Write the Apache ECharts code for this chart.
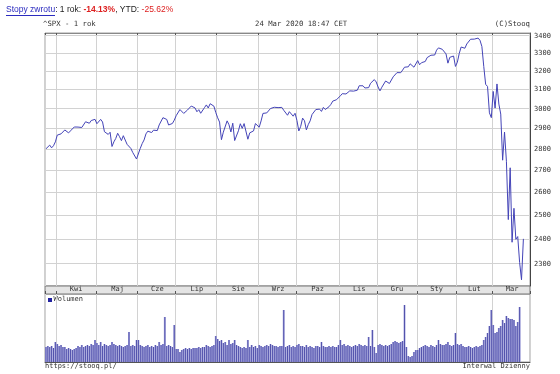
<!DOCTYPE html>
<html><head><meta charset="utf-8">
<script src="https://cdn.jsdelivr.net/npm/echarts@6/dist/echarts.min.js"></script>
<style>html,body{margin:0;padding:0;background:#fff}#c{width:560px;height:374px}</style>
</head><body><div id="c"></div>
<script>
// ---- DATA (S&P 500, ^SPX, 1 year, daily) ----
const monthLabels = ['', 'Kwi', 'Maj', 'Cze', 'Lip', 'Sie', 'Wrz', 'Paz', 'Lis', 'Gru', 'Sty', 'Lut', 'Mar'];

const priceMar19 = [2800.71, 2798.36, 2818.46, 2805.37, 2815.44, 2834.40];
const priceApr19 = [2867.19, 2867.24, 2873.40, 2879.39, 2892.74, 2895.77, 2878.20, 2888.21, 2888.32, 2907.41, 2905.58, 2907.06, 2900.45, 2905.03, 2907.97, 2933.68, 2927.25, 2926.17, 2939.88, 2943.03, 2945.83];
const priceMay19 = [2923.73, 2917.52, 2945.64, 2932.47, 2884.05, 2879.42, 2870.72, 2881.40, 2811.87, 2834.41, 2850.96, 2876.32, 2859.53, 2840.23, 2864.36, 2856.27, 2822.24, 2826.06, 2802.39, 2783.02, 2788.86, 2752.06];
const priceJun19 = [2744.45, 2803.27, 2826.15, 2843.49, 2873.34, 2886.73, 2885.72, 2879.84, 2891.64, 2886.98, 2889.67, 2917.75, 2926.46, 2954.18, 2950.46, 2945.35, 2917.38, 2913.78, 2924.92, 2941.76];
const priceJul19 = [2964.33, 2973.01, 2995.82, 2990.41, 2975.95, 2979.63, 2993.07, 2999.91, 3013.77, 3014.30, 3004.04, 2984.42, 2995.11, 2976.61, 2985.03, 3005.47, 3019.56, 3003.67, 3025.86, 3020.97, 3013.18, 2980.38];
const priceAug19 = [2953.56, 2932.05, 2844.74, 2881.77, 2883.98, 2938.09, 2918.65, 2882.70, 2926.32, 2840.60, 2847.60, 2888.68, 2923.65, 2900.51, 2924.43, 2922.95, 2847.11, 2878.38, 2869.16, 2887.94, 2924.58, 2926.46];
const priceSep19 = [2906.27, 2937.78, 2976.00, 2978.71, 2978.43, 2979.39, 3000.93, 3009.57, 3007.39, 2997.96, 3005.70, 3006.73, 3006.79, 2992.07, 2991.78, 2966.60, 2984.87, 2977.62, 2961.79, 2976.74];
const priceOct19 = [2940.25, 2887.61, 2910.63, 2952.01, 2938.79, 2893.06, 2919.40, 2938.13, 2970.27, 2966.15, 2995.68, 2989.69, 2997.95, 2986.20, 3006.72, 2995.99, 3004.52, 3010.29, 3022.55, 3039.42, 3036.89, 3046.77, 3037.56];
const priceNov19 = [3066.91, 3078.27, 3074.62, 3076.78, 3085.18, 3093.08, 3087.01, 3091.84, 3094.04, 3096.63, 3120.46, 3122.03, 3120.18, 3108.46, 3103.54, 3110.29, 3133.64, 3140.52, 3153.63, 3140.98];
const priceDec19 = [3113.87, 3093.20, 3112.76, 3117.43, 3145.91, 3135.96, 3132.52, 3141.63, 3168.57, 3168.80, 3191.45, 3192.52, 3191.14, 3205.37, 3221.22, 3224.01, 3223.38, 3239.91, 3240.02, 3221.29, 3230.78];
const priceJan20 = [3257.85, 3234.85, 3246.28, 3237.18, 3253.05, 3274.70, 3265.35, 3288.13, 3283.15, 3289.29, 3316.81, 3329.62, 3320.79, 3321.75, 3325.54, 3295.47, 3243.63, 3276.24, 3273.40, 3283.66, 3225.52];
const priceFeb20 = [3248.92, 3297.59, 3334.69, 3345.78, 3327.71, 3352.09, 3357.75, 3379.45, 3373.94, 3380.16, 3370.29, 3386.15, 3373.23, 3337.75, 3225.89, 3128.21, 3116.39, 2978.76, 2954.22];
const priceMar20 = [3090.23, 3003.37, 3130.12, 3023.94, 2972.37, 2746.56, 2882.23, 2741.38, 2480.64, 2711.02, 2386.13, 2529.19, 2398.10, 2409.39, 2304.92, 2237.40, 2400.00];

// volume (relative units)
const volMar19 = [15, 16, 15, 16, 14, 20];
const volApr19 = [18, 16, 17, 15, 15, 13, 14, 13, 12, 13, 14, 16, 15, 17, 15, 16, 17, 16, 18, 17, 22];
const volMay19 = [19, 17, 20, 16, 18, 17, 16, 17, 20, 18, 17, 16, 17, 16, 15, 16, 17, 30, 16, 17, 16, 22];
const volJun19 = [22, 17, 16, 15, 16, 17, 15, 16, 15, 17, 16, 20, 17, 18, 45, 16, 17, 16, 15, 37];
const volJul19 = [13, 13, 10, 12, 13, 14, 13, 14, 13, 14, 14, 14, 15, 14, 15, 15, 17, 16, 15, 16, 17, 26];
const volAug19 = [23, 21, 22, 19, 20, 17, 22, 18, 19, 22, 17, 16, 15, 14, 15, 14, 22, 15, 17, 15, 16, 14];
const volSep19 = [17, 16, 15, 16, 17, 16, 18, 17, 16, 16, 15, 16, 16, 52, 15, 16, 17, 15, 16, 15];
const volOct19 = [17, 18, 16, 16, 15, 17, 15, 16, 15, 14, 16, 16, 15, 20, 16, 15, 15, 16, 15, 16, 15, 15, 17];
const volNov19 = [22, 17, 18, 16, 17, 16, 15, 16, 17, 16, 18, 17, 16, 17, 16, 25, 16, 32, 15, 9];
const volDec19 = [17, 18, 17, 16, 17, 16, 17, 18, 20, 21, 20, 19, 20, 21, 57, 15, 6, 5, 6, 10, 12];
const volJan20 = [12, 14, 15, 16, 17, 16, 15, 17, 16, 15, 17, 22, 18, 17, 17, 18, 20, 17, 16, 17, 29];
const volFeb20 = [18, 17, 18, 16, 15, 15, 16, 15, 14, 15, 16, 15, 16, 17, 22, 25, 29, 36, 52];
const volMar20 = [37, 29, 30, 34, 36, 42, 39, 46, 44, 43, 43, 42, 36, 40, 55, null, null];

const yTickValues = [2300, 2400, 2500, 2600, 2700, 2800, 2900, 3000, 3100, 3200, 3300, 3400];
const padDays = 3;

// ---- BUILD ----
const priceMonths = [priceMar19, priceApr19, priceMay19, priceJun19, priceJul19, priceAug19, priceSep19, priceOct19, priceNov19, priceDec19, priceJan20, priceFeb20, priceMar20];
const volMonths = [volMar19, volApr19, volMay19, volJun19, volJul19, volAug19, volSep19, volOct19, volNov19, volDec19, volJan20, volFeb20, volMar20];

const categories = [], prices = [], volumes = [];
const monthStart = new Set();
const labelAt = {};
priceMonths.forEach((arr, m) => {
  const start = categories.length;
  monthStart.add(start);
  let len = arr.length + (m === priceMonths.length - 1 ? padDays : 0);
  if (monthLabels[m]) labelAt[start + Math.floor(len / 2)] = monthLabels[m];
  arr.forEach((v, i) => {
    categories.push(m + '-' + (i + 1));
    prices.push(v);
    volumes.push(volMonths[m][i]);
  });
});
for (let i = 0; i < padDays; i++) { categories.push('pad' + i); prices.push(null); volumes.push(null); }

const MONO = "'DejaVu Sans Mono', monospace";
const gridColor = '#d2d2d2';
const isMonthStart = (idx) => monthStart.has(idx);

const chart = echarts.init(document.getElementById('c'), null, {renderer: 'canvas'});
chart.setOption({
  animation: false,
  backgroundColor: '#fff',
  grid: [
    {left: 45, right: 30, top: 33, height: 253, show: true, borderColor: '#a0a0a0', borderWidth: 1, backgroundColor: '#fff'},
    {left: 45, right: 30, top: 294, height: 68, show: true, borderColor: '#a0a0a0', borderWidth: 1, backgroundColor: '#fff'},
    {left: 45, right: 30, top: 286, height: 8, show: true, borderColor: '#777', borderWidth: 1, backgroundColor: '#e4e4e4'}
  ],
  xAxis: [
    {type: 'category', gridIndex: 0, data: categories, position: 'top', boundaryGap: true,
     axisLine: {show: true, lineStyle: {color: '#888'}},
     axisTick: {show: true, inside: true, length: 3, interval: isMonthStart, lineStyle: {color: '#555'}},
     axisLabel: {show: false},
     splitLine: {show: true, interval: isMonthStart, lineStyle: {color: gridColor, width: 1}}},
    {type: 'category', gridIndex: 1, data: categories, position: 'bottom', boundaryGap: true,
     axisLine: {show: true, lineStyle: {color: '#555'}},
     axisTick: {show: false}, axisLabel: {show: false},
     splitLine: {show: true, interval: isMonthStart, lineStyle: {color: gridColor, width: 1}}},
    {type: 'category', gridIndex: 2, data: categories, position: 'bottom', boundaryGap: true,
     axisLine: {show: false},
     axisTick: {show: true, inside: true, length: 3, interval: isMonthStart, lineStyle: {color: '#555'}},
     axisLabel: {show: true, inside: true, margin: 1, interval: (idx) => labelAt[idx] !== undefined,
       formatter: (v, idx) => labelAt[idx] || '', fontFamily: MONO, fontSize: 7, color: '#333'},
     splitLine: {show: false}},
    {type: 'category', gridIndex: 1, data: categories, show: false, boundaryGap: true}
  ],
  yAxis: [
    {type: 'log', logBase: 10, gridIndex: 0, position: 'right', min: 2213.7, max: 3415.8,
     axisLine: {show: true, lineStyle: {color: '#444'}}, axisTick: {show: false},
     axisLabel: {show: false}, splitLine: {show: false}},
    {type: 'value', gridIndex: 1, min: 0, max: 68, show: false, splitLine: {show: false}},
    {type: 'value', gridIndex: 2, min: 0, max: 1, show: false, splitLine: {show: false}}
  ],
  series: [
    {name: 'Wolumen (tło)', type: 'bar', xAxisIndex: 1, yAxisIndex: 1, data: volumes, barWidth: 2,
     itemStyle: {color: '#aaaadf'}, silent: true},
    {name: 'Wolumen', type: 'bar', xAxisIndex: 3, yAxisIndex: 1, data: volumes, barWidth: 1,
     itemStyle: {color: '#5252ac'}, silent: true},
    {name: '^SPX', type: 'line', xAxisIndex: 0, yAxisIndex: 0, data: prices, showSymbol: false,
     lineStyle: {color: '#4444b8', width: 1}, z: 3, silent: true,
     markLine: {silent: true, symbol: 'none', z: 1, animation: false,
       lineStyle: {color: gridColor, width: 1, type: 'solid'},
       label: {show: true, position: 'end', distance: 4, formatter: '{c}', fontFamily: MONO, fontSize: 7, color: '#333'},
       emphasis: {disabled: true},
       data: yTickValues.map(v => ({yAxis: v}))}}
  ],
  graphic: [
    {type: 'text', left: 6, top: 5, style: {
      text: '{a|Stopy zwrotu}{b|: 1 rok: }{r|-14.13%}{b|, YTD: }{s|-25.62%}',
      rich: {
        a: {fontFamily: 'Liberation Sans, Arial', fontSize: 8.5, fill: '#2b2bbf'},
        b: {fontFamily: 'Liberation Sans, Arial', fontSize: 8.5, fill: '#222'},
        r: {fontFamily: 'Liberation Sans, Arial', fontSize: 8.5, fill: '#dd1f1f', fontWeight: 'bold'},
        s: {fontFamily: 'Liberation Sans, Arial', fontSize: 8.5, fill: '#dd1f1f'}
      }}},
    {type: 'line', shape: {x1: 6, y1: 15.5, x2: 55, y2: 15.5}, style: {stroke: '#2b2bbf', lineWidth: 1}},
    {type: 'text', left: 43, top: 21, style: {text: '^SPX - 1 rok', font: '7.3px ' + MONO, fill: '#333'}},
    {type: 'text', left: 255, top: 21, style: {text: '24 Mar 2020 18:47 CET', font: '7.3px ' + MONO, fill: '#333'}},
    {type: 'text', right: 30, top: 21, style: {text: '(C)Stooq', font: '7.3px ' + MONO, fill: '#333'}},
    {type: 'rect', shape: {x: 48, y: 298, width: 4, height: 4}, style: {fill: '#2222a0'}},
    {type: 'text', left: 53.5, top: 296, style: {text: 'Wolumen', font: '7px ' + MONO, fill: '#333'}},
    {type: 'text', left: 45, top: 363, style: {text: 'https://stooq.pl/', font: '7px ' + MONO, fill: '#333'}},
    {type: 'text', right: 30, top: 363, style: {text: 'Interwal Dzienny', font: '7px ' + MONO, fill: '#333'}}
  ]
});
</script></body></html>
